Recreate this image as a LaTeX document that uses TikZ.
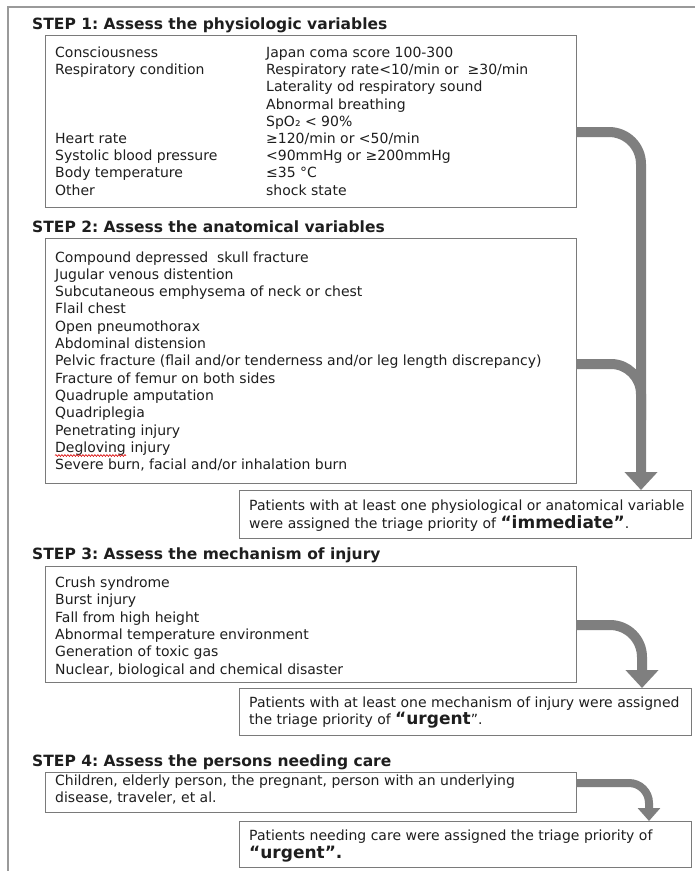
\documentclass[tikz,border=0pt]{standalone}
\usepackage{fontspec}
\setmainfont{DejaVu Sans}
\frenchspacing
\usetikzlibrary{arrows.meta,decorations.pathmorphing}
\definecolor{arrowgray}{HTML}{7F7F7F}
\definecolor{boxgray}{HTML}{7A7A7A}
\definecolor{framegray}{HTML}{9A9A9A}
\definecolor{txt}{HTML}{1E1E1E}
\begin{document}
\begin{tikzpicture}[x=1pt,y=-1pt,
  steptitle/.style={anchor=base west, inner sep=0pt, font=\fontsize{15.5}{18}\selectfont\bfseries, text=txt},
  boxframe/.style={draw=boxgray, line width=1.1pt, inner sep=0pt, anchor=north west},
  item/.style={anchor=base west, inner sep=0pt, font=\fontsize{14}{17}\selectfont, text=txt},
  fat/.style={draw=arrowgray, line width=10pt},
  thinfat/.style={draw=arrowgray, line width=8pt},
  bigtip/.style={-{Triangle[width=32pt,length=18pt]}},
  smalltip/.style={-{Triangle[width=22pt,length=13pt]}}
]
\useasboundingbox (0,0) rectangle (695,871);
\fill[white] (0,0) rectangle (695,871);
% outer frame (top and left visible)
\draw[framegray, line width=1.3pt] (8,871) -- (8,7) -- (695,7);

% ---------- STEP 1 ----------
\node[steptitle] (t1) at (32,29) {STEP 1: Assess the physiologic variables};
\node[boxframe, minimum width=531pt, minimum height=172pt] (b1) at (45,35) {};
\foreach \lab/\val [count=\i from 0] in {
  {Consciousness}/{Japan coma score 100-300},
  {Respiratory condition}/{Respiratory rate<10/min or \ ≥30/min},
  {}/{Laterality od respiratory sound},
  {}/{Abnormal breathing},
  {}/{SpO₂ < 90\%},
  {Heart rate}/{≥120/min or <50/min},
  {Systolic blood pressure}/{<90mmHg or ≥200mmHg},
  {Body temperature}/{≤35 °C},
  {Other}/{shock state}}{
  \node[item] (p1l\i) at (55,57.5+17.2*\i) {\lab};
  \node[item] (p1r\i) at (266,57.5+17.2*\i) {\val};
}

% ---------- STEP 2 ----------
\node[steptitle] (t2) at (32,232) {STEP 2: Assess the anatomical variables};
\node[boxframe, minimum width=531pt, minimum height=245pt] (b2) at (45,238) {};
\foreach \txt [count=\i from 0] in {
  Compound depressed \ skull fracture,
  Jugular venous distention,
  Subcutaneous emphysema of neck or chest,
  Flail chest,
  Open pneumothorax,
  Abdominal distension,
  Pelvic fracture (flail and/or tenderness and/or leg length discrepancy),
  Fracture of femur on both sides,
  Quadruple amputation,
  Quadriplegia,
  Penetrating injury}{
  \node[item] (p2\i) at (55,262+17.3*\i) {\txt};
}
\node[item] (deg) at (55,262+17.3*11) {Degloving};
\node[item] (degi) at (deg.base east) {\ injury};
\draw[red!85!black, line width=0.6pt, decorate, decoration={snake, amplitude=0.9pt, segment length=3pt}]
  ([yshift=-3.2pt]deg.base west) -- ([yshift=-3.2pt]deg.base east);
\node[item] (p212) at (55,262+17.3*12) {Severe burn, facial and/or inhalation burn};

% ---------- Result 1 ----------
\node[boxframe, minimum width=452pt, minimum height=48pt] (r1) at (239,490) {};
\node[item] (r1a) at (249,510.5) {Patients with at least one physiological or anatomical variable};
\node[item] (r1b) at (249,528.5) {were assigned the triage priority of {\fontsize{17}{17}\selectfont\bfseries “immediate”}.};

% ---------- STEP 3 ----------
\node[steptitle] (t3) at (32,559) {STEP 3: Assess the mechanism of injury};
\node[boxframe, minimum width=531pt, minimum height=116pt] (b3) at (45,566) {};
\foreach \txt [count=\i from 0] in {
  Crush syndrome,
  Burst injury,
  Fall from high height,
  Abnormal temperature environment,
  Generation of toxic gas,
  {Nuclear, biological and chemical disaster}}{
  \node[item] (p3\i) at (55,587.5+17.3*\i) {\txt};
}

% ---------- Result 2 ----------
\node[boxframe, minimum width=452pt, minimum height=47pt] (r2) at (239,688) {};
\node[item] (r2a) at (249,707.5) {Patients with at least one mechanism of injury were assigned};
\node[item] (r2b) at (249,724.5) {the triage priority of {\fontsize{17}{17}\selectfont\bfseries “urgent}”.};

% ---------- STEP 4 ----------
\node[steptitle] (t4) at (32,766) {STEP 4: Assess the persons needing care};
\node[boxframe, minimum width=531pt, minimum height=40pt] (b4) at (45,772) {};
\node[item] (p40) at (55,785.5) {Children, elderly person, the pregnant, person with an underlying};
\node[item] (p41) at (55,802.5) {disease, traveler, et al.};

% ---------- Result 3 ----------
\node[boxframe, minimum width=452pt, minimum height=46pt] (r3) at (239,821) {};
\node[item] (r3a) at (249,840.5) {Patients needing care were assigned the triage priority of};
\node[item] (r3b) at (249,858) {{\fontsize{17}{17}\selectfont\bfseries “urgent”.}};

% ---------- connectors ----------
\coordinate (s1) at (576,132);
\coordinate (s2) at (576,364);
\coordinate (j2) at (641,420);
\coordinate (v1) at (641,0);
\coordinate (s3) at (576,625);
\coordinate (v2) at (642,0);
\coordinate (s4) at (576,783);
\coordinate (v3) at (649,0);

\draw[fat, rounded corners=30pt] (s2) -| (j2);
\draw[fat, bigtip, rounded corners=32pt] (s1) -| (r1.north -| v1);
\draw[fat, bigtip, rounded corners=32pt] (s3) -| (r2.north -| v2);
\draw[thinfat, smalltip, rounded corners=20pt] (s4) -| (r3.north -| v3);
\end{tikzpicture}
\end{document}
